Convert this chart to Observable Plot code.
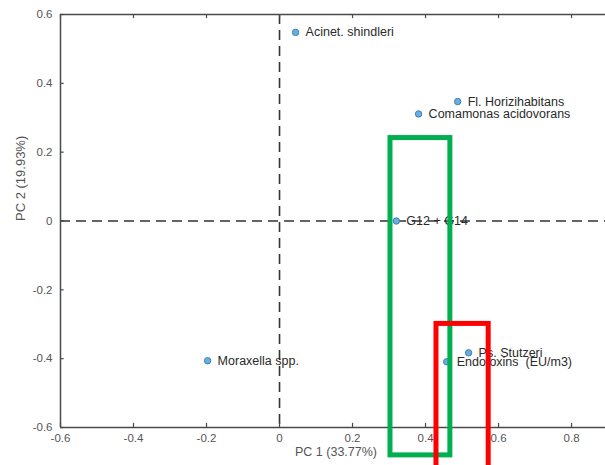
<!DOCTYPE html>
<html>
<head>
<meta charset="utf-8">
<script src="https://cdn.jsdelivr.net/npm/d3@7"></script>
<script src="https://cdn.jsdelivr.net/npm/@observablehq/plot@0.6"></script>
<style>
  html, body { margin: 0; padding: 0; background: #fff; }
  svg { font-family: "Liberation Sans", Arial, sans-serif; }
</style>
</head>
<body>
<div id="chart"></div>
<script>
// Data
const names = ["Acinet. shindleri", "Fl. Horizihabitans", "Comamonas acidovorans", "G12 + G14", "Moraxella spp.", "Ps. Stutzeri", "Endotoxins  (EU/m3)"];
const pc1 = [0.044, 0.488, 0.381, 0.320, -0.197, 0.518, 0.458];
const pc2 = [0.548, 0.347, 0.311, 0.000, -0.406, -0.383, -0.409];
const xTicks = [-0.6, -0.4, -0.2, 0, 0.2, 0.4, 0.6, 0.8];
const yTicks = [-0.6, -0.4, -0.2, 0, 0.2, 0.4, 0.6];
const xLabel = "PC 1 (33.77%)";
const yLabel = "PC 2 (19.93%)";
// Highlight boxes (data units)
const boxColors = ["#00b050", "#ff0000"];
const boxX1 = [0.304, 0.430];
const boxX2 = [0.468, 0.573];
const boxY1 = [0.241, -0.299];
const boxY2 = [-0.681, -0.76];

const points = names.map((n, i) => ({name: n, x: pc1[i], y: pc2[i]}));
const boxes = boxColors.map((c, i) => ({c, x1: boxX1[i], x2: boxX2[i], y1: boxY1[i], y2: boxY2[i]}));

const axisColor = "#4a4a4a";
const fmt = d => String(d);

const chart = Plot.plot({
  width: 605,
  height: 465,
  marginLeft: 60,
  marginRight: 0,
  marginTop: 14,
  marginBottom: 38,
  style: {fontFamily: "'Liberation Sans', Arial, sans-serif", fontSize: "12px", color: "#333", background: "#fff"},
  x: {domain: [-0.6, 0.893]},
  y: {domain: [-0.6, 0.6]},
  marks: [
    // dashed origin lines
    Plot.ruleY([0], {stroke: "#333", strokeWidth: 1.6, strokeDasharray: "10,6"}),
    Plot.ruleX([0], {stroke: "#333", strokeWidth: 1.6, strokeDasharray: "10,6"}),
    // frame
    Plot.ruleX([-0.6], {stroke: axisColor, strokeWidth: 1.5}),
    Plot.ruleY([-0.6], {stroke: axisColor, strokeWidth: 1.5}),
    Plot.ruleY([0.6], {stroke: axisColor, strokeWidth: 1.5}),
    // inward ticks
    Plot.ruleX(xTicks, {y1: -0.6, y2: -0.588, stroke: axisColor, strokeWidth: 1.2}),
    Plot.ruleX(xTicks, {y1: 0.6, y2: 0.588, stroke: axisColor, strokeWidth: 1.2}),
    Plot.ruleY(yTicks, {x1: -0.6, x2: -0.59, stroke: axisColor, strokeWidth: 1.2}),
    Plot.axisX({ticks: xTicks, tickSize: 0, tickPadding: 6, tickFormat: fmt, label: null, fill: "#555", fontSize: 11.5}),
    Plot.axisY({ticks: yTicks, tickSize: 0, tickPadding: 8, tickFormat: fmt, label: null, fill: "#555", fontSize: 11.5}),
    Plot.text([xLabel], {frameAnchor: "bottom", dy: 28, dx: 3, fill: "#555", fontSize: 12.5}),
    Plot.text([yLabel], {frameAnchor: "left", rotate: -90, dx: -40, fill: "#555", fontSize: 13}),
    // points
    Plot.dot(points, {x: "x", y: "y", r: 3.2, fill: "#6aaee0", stroke: "#3f7fb5", strokeWidth: 1}),
    Plot.text(points, {x: "x", y: "y", text: "name", dx: 10, textAnchor: "start", fill: "#2a2a2a", fontSize: 12.5}),
    // highlight boxes
    Plot.rect(boxes, {x1: "x1", x2: "x2", y1: "y1", y2: "y2", stroke: "c", fill: "none", strokeWidth: 5})
  ]
});
document.getElementById("chart").appendChild(chart);
</script>
</body>
</html>
